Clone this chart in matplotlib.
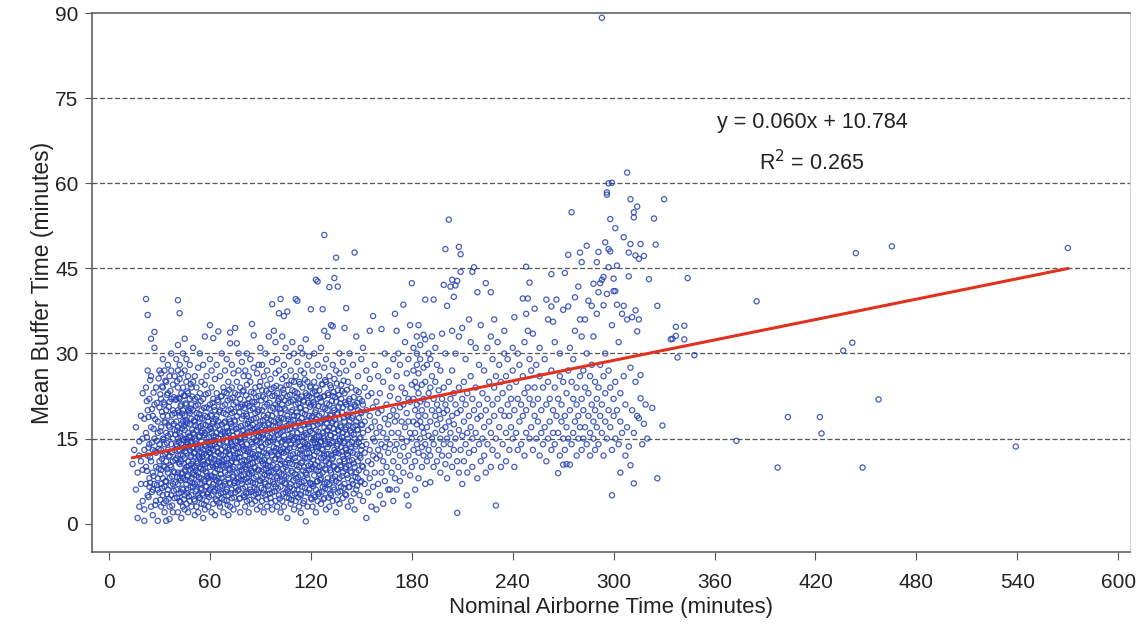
import matplotlib.pyplot as plt
import numpy as np

# Regression line reported on the chart
slope = 0.060
intercept = 10.784
r_squared = 0.265

x_ticks = [0, 60, 120, 180, 240, 300, 360, 420, 480, 540, 600]
y_ticks = [0, 15, 30, 45, 60, 75, 90]
grid_levels = [15, 30, 45, 60, 75]

# (nominal airborne time, mean buffer time), by region
pts_short = [
    (14, 10.5), (15, 13), (16, 6), (16, 17), (17, 1), (17, 9), (18, 12), (18, 14.5), (18, 3), (19, 7), (19, 19), (19, 11),
    (20, 15), (20, 4), (20, 23), (20, 9.5),
    (21, 0.5), (21, 2.5), (21, 13), (21, 18.5), (22, 7), (22, 10), (22, 16), (22, 24), (22, 39.6), (23, 5), (23, 12), (23, 20),
    (23, 36.8), (23, 27), (24, 8), (24, 14), (24, 22), (24, 6.5), (25, 3), (25, 11), (25, 17), (25, 26), (25, 32.6), (26, 6),
    (26, 9), (26, 13), (26, 19), (26, 1.5), (27, 7), (27, 15), (27, 21), (27, 31), (27, 33.8), (28, 4), (28, 10), (28, 12.5),
    (28, 24), (29, 6), (29, 8), (29, 16), (29, 18), (29, 0.5), (30, 5.5), (30, 11), (30, 14), (30, 20.5), (30, 27),
    (31, 3), (31, 7), (31, 9.5), (31, 13), (31, 17), (31, 22), (31, 26.5), (32, 5), (32, 8), (32, 12), (32, 15), (32, 19),
    (32, 24), (32, 29), (33, 2), (33, 6.5), (33, 10), (33, 14), (33, 18), (33, 21), (33, 27), (34, 4), (34, 7.5), (34, 11),
    (34, 16), (34, 20), (34, 25), (34, 0.5), (35, 6), (35, 9), (35, 13), (35, 15.5), (35, 19), (35, 23), (35, 28), (36, 3),
    (36, 8), (36, 12), (36, 17), (36, 21.5), (36, 26), (36, 0.8), (37, 5), (37, 10), (37, 14), (37, 18), (37, 22), (37, 27),
    (37, 30), (38, 7), (38, 11), (38, 15), (38, 20), (38, 24.5), (38, 2), (39, 4.5), (39, 9), (39, 13), (39, 16.5), (39, 19.5),
    (39, 26), (40, 6), (40, 11.5), (40, 14), (40, 18), (40, 22), (40, 29), (41, 39.4), (42, 37.1), (41, 31.5), (45, 32.6),
    (41, 2), (41, 7), (41, 9), (41, 12), (41, 15), (41, 17), (41, 20), (41, 24), (41, 27),
    (42, 4), (42, 8), (42, 10.5), (42, 13), (42, 16), (42, 19), (42, 22), (42, 25.5), (42, 28),
    (43, 1), (43, 5.5), (43, 9), (43, 11), (43, 14), (43, 17.5), (43, 21), (43, 23), (43, 26.5),
    (44, 3), (44, 6), (44, 8), (44, 12), (44, 15), (44, 18), (44, 20), (44, 24), (44, 30),
    (45, 2.5), (45, 5), (45, 9.5), (45, 11.5), (45, 13.5), (45, 16.5), (45, 19), (45, 22.5), (45, 27),
    (46, 3.5), (46, 7), (46, 10), (46, 12.5), (46, 15), (46, 18), (46, 21), (46, 25), (46, 29),
    (47, 2), (47, 6), (47, 8.5), (47, 11), (47, 14), (47, 16), (47, 20), (47, 23), (47, 26),
    (48, 4), (48, 7.5), (48, 9.5), (48, 13), (48, 15.5), (48, 17.5), (48, 19.5), (48, 22), (48, 28),
    (49, 3), (49, 5), (49, 8), (49, 10.5), (49, 12), (49, 14.5), (49, 18.5), (49, 21), (49, 24),
    (50, 6.5), (50, 9), (50, 11), (50, 13.5), (50, 16), (50, 20), (50, 25), (50, 31),
    (51, 1.5), (51, 4), (51, 7), (51, 10), (51, 12.5), (51, 15), (51, 18), (51, 22), (51, 26),
    (52, 3), (52, 6), (52, 8.5), (52, 11), (52, 14), (52, 16.5), (52, 19.5), (52, 24),
    (53, 2), (53, 5), (53, 9), (53, 12), (53, 13.5), (53, 17), (53, 21), (53, 27.5),
    (54, 4.5), (54, 7), (54, 10), (54, 11.5), (54, 15.5), (54, 18.5), (54, 23), (54, 30),
    (55, 3.5), (55, 6), (55, 8), (55, 12.5), (55, 14.5), (55, 16), (55, 20), (55, 25),
    (56, 5), (56, 9.5), (56, 11), (56, 13), (56, 17.5), (56, 22), (56, 28), (56, 1),
    (57, 2.5), (57, 7.5), (57, 10.5), (57, 14), (57, 16), (57, 19), (57, 24.5), (57, 33),
    (58, 4), (58, 6.5), (58, 9), (58, 12), (58, 15), (58, 20.5), (58, 26),
    (59, 3), (59, 5.5), (59, 8), (59, 11), (59, 13), (59, 16.5), (59, 18), (59, 23),
    (60, 6), (60, 10), (60, 12.5), (60, 14), (60, 17), (60, 21), (60, 29), (60, 35),
    (61, 2), (61, 5), (61, 8.5), (61, 11.5), (61, 14.5), (61, 16), (61, 19), (61, 24), (61, 27),
    (62, 3.5), (62, 7), (62, 10), (62, 13), (62, 15.5), (62, 18), (62, 22), (62, 32.7),
    (63, 1.5), (63, 6), (63, 9), (63, 12), (63, 14), (63, 17), (63, 20), (63, 25.5),
    (64, 4), (64, 7.5), (64, 10.5), (64, 13.5), (64, 16), (64, 19), (64, 23), (64, 28),
    (65, 5), (65, 8), (65, 11), (65, 12.5), (65, 15), (65, 18), (65, 21.5), (65, 33.9),
    (66, 3), (66, 6.5), (66, 9.5), (66, 14), (66, 16.5), (66, 20), (66, 26),
    (67, 4.5), (67, 8), (67, 11), (67, 13), (67, 17.5), (67, 22.5), (67, 30),
    (68, 2), (68, 5.5), (68, 10), (68, 12), (68, 15), (68, 19.5), (68, 24),
    (69, 7), (69, 9), (69, 13.5), (69, 16), (69, 18), (69, 21), (69, 27),
    (70, 4), (70, 6), (70, 11.5), (70, 14.5), (70, 17), (70, 23), (70, 29),
    (71, 1.5), (71, 5), (71, 8), (71, 10.5), (71, 13), (71, 16), (71, 20), (71, 25),
    (72, 3), (72, 7), (72, 9.5), (72, 12), (72, 15), (72, 18), (72, 22), (72, 31.8), (72, 33.7),
    (73, 4.5), (73, 6), (73, 11), (73, 14), (73, 17), (73, 19.5), (73, 24), (73, 28),
    (74, 2.5), (74, 8.5), (74, 10), (74, 13), (74, 15.5), (74, 21), (74, 26.5),
    (75, 5.5), (75, 7.5), (75, 12), (75, 14.5), (75, 18), (75, 23), (75, 34.5),
    (76, 3.5), (76, 9), (76, 11.5), (76, 16), (76, 19), (76, 25), (76, 31.8),
    (77, 6), (77, 8), (77, 13.5), (77, 17), (77, 20.5), (77, 27), (77, 30),
    (78, 2), (78, 4.5), (78, 10), (78, 12.5), (78, 15), (78, 22), (78, 24),
    (79, 7), (79, 9.5), (79, 11), (79, 14), (79, 18.5), (79, 21), (79, 28.5),
    (80, 5), (80, 8.5), (80, 13), (80, 16.5), (80, 19), (80, 23.5), (80, 26),
]

pts_medium = [
    (81, 3), (81, 6.5), (81, 10), (81, 12), (81, 15), (81, 17.5), (81, 21), (81, 27),
    (82, 4), (82, 8), (82, 11), (82, 14), (82, 16), (82, 19), (82, 24.5), (82, 30),
    (83, 2), (83, 5.5), (83, 9), (83, 13), (83, 15.5), (83, 18), (83, 22), (83, 26),
    (84, 6), (84, 7.5), (84, 10.5), (84, 12.5), (84, 17), (84, 20), (84, 25), (84, 29),
    (85, 3.5), (85, 9), (85, 11.5), (85, 14), (85, 16.5), (85, 21.5), (85, 35.2),
    (86, 5), (86, 8), (86, 13.5), (86, 15), (86, 18.5), (86, 23), (86, 33.2), (86, 27.5),
    (87, 4), (87, 7), (87, 10), (87, 12), (87, 16), (87, 19.5), (87, 24),
    (88, 2.5), (88, 6), (88, 11), (88, 14.5), (88, 17), (88, 21), (88, 26.5),
    (89, 5.5), (89, 9.5), (89, 13), (89, 15.5), (89, 20), (89, 22.5), (89, 28),
    (90, 3), (90, 7.5), (90, 12), (90, 16), (90, 18), (90, 25), (90, 31),
    (91, 4), (91, 8), (91, 11), (91, 13.5), (91, 17), (91, 20), (91, 23.5), (91, 28),
    (92, 2), (92, 6), (92, 9.5), (92, 12.5), (92, 15), (92, 19), (92, 26),
    (93, 5), (93, 7), (93, 10.5), (93, 14), (93, 16.5), (93, 22), (93, 30),
    (94, 3), (94, 8.5), (94, 12), (94, 15.5), (94, 21), (94, 24.5), (94, 27),
    (95, 6), (95, 9), (95, 11), (95, 13), (95, 17.5), (95, 23), (95, 33),
    (96, 4.5), (96, 7.5), (96, 10), (96, 14.5), (96, 20), (96, 25.5),
    (97, 2.5), (97, 5.5), (97, 12), (97, 16), (97, 19), (97, 22.5), (97, 28.5), (97, 38.7),
    (98, 7), (98, 9), (98, 13.5), (98, 15), (98, 18), (98, 24), (98, 34),
    (99, 4), (99, 6.5), (99, 11.5), (99, 17), (99, 21), (99, 26.5), (99, 32),
    (100, 3), (100, 8), (100, 10), (100, 14), (100, 16.5), (100, 20.5), (100, 23), (100, 29),
    (101, 5), (101, 9), (101, 12), (101, 15), (101, 18), (101, 22), (101, 27), (101, 37.1),
    (102, 2), (102, 6.5), (102, 10.5), (102, 13), (102, 16), (102, 19.5), (102, 24), (102, 39.6),
    (103, 4), (103, 7.5), (103, 11), (103, 14.5), (103, 17), (103, 21), (103, 25.5), (103, 33),
    (104, 3), (104, 8.5), (104, 12.5), (104, 15.5), (104, 18.5), (104, 23), (104, 28), (104, 36.6),
    (105, 5.5), (105, 7), (105, 10), (105, 14), (105, 20), (105, 26), (105, 31),
    (106, 1), (106, 6), (106, 9.5), (106, 13), (106, 16.5), (106, 19), (106, 22.5), (106, 37.4),
    (107, 4.5), (107, 8), (107, 11.5), (107, 15), (107, 17.5), (107, 24.5), (107, 29.5),
    (108, 3.5), (108, 7), (108, 12), (108, 14), (108, 18), (108, 21.5), (108, 27),
    (109, 5), (109, 9), (109, 10.5), (109, 16), (109, 20), (109, 23.5), (109, 32),
    (110, 2.5), (110, 6), (110, 13.5), (110, 15), (110, 19), (110, 25), (110, 30),
    (111, 4), (111, 8), (111, 11), (111, 14), (111, 17), (111, 21), (111, 26), (111, 39.6),
    (112, 6), (112, 9.5), (112, 12.5), (112, 16), (112, 19), (112, 23), (112, 28.5), (112, 39.3),
    (113, 3), (113, 7), (113, 10), (113, 15), (113, 18), (113, 22), (113, 25),
    (114, 1.9), (114, 5), (114, 8.5), (114, 13), (114, 16.5), (114, 20.5), (114, 27), (114, 31),
    (115, 6.5), (115, 11), (115, 12), (115, 14.5), (115, 19.5), (115, 24), (115, 30),
    (116, 4), (116, 7.5), (116, 10), (116, 15.5), (116, 17.5), (116, 21.5), (116, 26.5),
    (117, 0.4), (117, 5.5), (117, 9), (117, 13.5), (117, 16), (117, 20), (117, 23), (117, 32.5),
    (118, 3), (118, 8), (118, 11.5), (118, 14), (118, 18), (118, 25), (118, 28),
    (119, 6), (119, 9.5), (119, 12.5), (119, 17), (119, 19), (119, 22.5), (119, 29.5),
    (120, 4.5), (120, 7), (120, 10.5), (120, 15), (120, 21), (120, 24), (120, 37.8),
    (121, 3), (121, 7), (121, 10), (121, 13), (121, 16), (121, 19), (121, 23), (121, 27),
    (122, 5), (122, 8.5), (122, 12), (122, 15), (122, 18), (122, 21), (122, 25), (122, 30),
    (123, 2), (123, 6), (123, 9.5), (123, 13.5), (123, 16.5), (123, 20), (123, 24), (123, 43),
    (124, 4), (124, 7.5), (124, 11), (124, 14), (124, 17.5), (124, 22), (124, 28), (124, 42.7),
    (125, 5.5), (125, 10), (125, 12.5), (125, 15.5), (125, 19), (125, 23.5), (125, 26),
    (126, 3.5), (126, 8), (126, 11.5), (126, 14.5), (126, 18), (126, 21.5), (126, 31),
    (127, 6.5), (127, 9), (127, 13), (127, 16), (127, 20.5), (127, 24.5), (127, 37.8),
    (128, 4.5), (128, 7), (128, 12), (128, 15), (128, 17), (128, 22.5), (128, 27.5), (128, 50.9), (128, 34),
    (129, 2.5), (129, 9.5), (129, 11), (129, 14), (129, 18.5), (129, 25), (129, 29),
    (130, 6), (130, 8), (130, 13.5), (130, 16.5), (130, 20), (130, 23), (130, 33),
    (131, 3), (131, 7), (131, 10.5), (131, 14), (131, 17), (131, 21), (131, 26), (131, 41.7),
    (132, 5), (132, 9), (132, 12), (132, 15.5), (132, 19), (132, 24), (132, 35),
    (133, 4), (133, 8), (133, 11.5), (133, 14.5), (133, 18), (133, 22.5), (133, 28), (133, 34.8),
    (134, 6), (134, 10), (134, 13), (134, 16), (134, 20), (134, 25.5), (134, 43.3),
    (135, 2), (135, 7.5), (135, 12.5), (135, 17.5), (135, 21.5), (135, 27), (135, 46.9),
    (136, 5.5), (136, 9.5), (136, 14), (136, 16.5), (136, 19.5), (136, 23.5), (136, 41.8),
    (137, 3.5), (137, 8), (137, 11), (137, 15), (137, 18.5), (137, 26.5), (137, 30),
    (138, 6.5), (138, 10), (138, 13.5), (138, 17), (138, 22), (138, 24.5),
    (139, 4.5), (139, 9), (139, 12), (139, 16), (139, 20.5), (139, 28.5),
    (140, 7), (140, 11), (140, 14.5), (140, 18), (140, 23), (140, 34.5),
    (141, 5), (141, 10), (141, 13), (141, 17), (141, 21), (141, 27), (141, 38),
    (142, 3), (142, 8), (142, 12), (142, 15), (142, 19), (142, 25),
    (143, 6.5), (143, 11), (143, 14), (143, 18), (143, 22), (143, 30),
    (144, 4), (144, 9), (144, 13.5), (144, 16), (144, 20.5), (144, 24),
    (145, 7), (145, 12.5), (145, 17), (145, 19), (145, 28), (146, 2.5), (146, 10), (146, 15), (146, 21), (146, 47.8),
    (147, 6), (147, 9), (147, 14), (147, 18), (147, 23.5), (147, 33), (148, 8), (148, 11), (148, 16.5), (148, 20), (148, 26),
    (149, 5), (149, 12), (149, 15), (149, 22), (150, 7.5), (150, 13), (150, 17.5), (150, 19.5), (150, 29),
    (151, 4), (151, 10), (151, 16), (151, 21), (151, 31), (152, 7), (152, 12.5), (152, 18), (152, 24),
    (153, 1), (153, 9), (153, 14), (153, 20), (153, 27), (154, 5.5), (154, 11), (154, 16.5), (154, 22.5),
    (155, 8), (155, 13), (155, 19), (155, 25.5), (155, 34), (156, 3), (156, 10.5), (156, 17), (156, 23),
    (157, 6.5), (157, 12), (157, 15), (157, 20.5), (157, 36.6), (158, 9), (158, 14.5), (158, 18), (158, 28),
    (159, 2.5), (159, 11.5), (159, 16), (159, 21.5), (160, 7), (160, 13), (160, 19.5), (160, 26),
]

# extra points filling the dense core (column x, values of y in that column)
core_cols = [
    (22.5, [9.3, 15.2, 21.6]), (23.5, [4.7, 13.4, 18.8]), (24.5, [7.2, 11.7, 25.3]), (25.5, [5.6, 14.3, 20.2]),
    (26.5, [8.4, 16.7, 23.1]), (27.5, [3.3, 12.8, 18.4]), (28.5, [6.8, 14.6, 21.3]), (29.5, [9.7, 13.2, 25.6]),
    (30.5, [4.2, 8.7, 16.3, 22.8]), (31.5, [6.3, 11.4, 19.7, 24.2]), (32.5, [3.6, 10.2, 14.8, 21.4]),
    (33.5, [7.4, 12.3, 17.8, 25.2]), (34.5, [5.2, 9.6, 14.2, 22.7]), (35.5, [4.4, 11.8, 17.3, 20.6]),
    (36.5, [6.7, 10.3, 15.8, 23.4]), (37.5, [3.2, 8.3, 12.6, 19.2]), (38.5, [5.8, 9.2, 17.6, 22.3]),
    (39.5, [7.3, 11.2, 15.7, 21.8]), (40.5, [4.6, 8.2, 13.7, 16.4, 25.1]), (41.5, [5.3, 10.8, 14.3, 19.6, 22.2]),
    (42.5, [3.8, 7.6, 12.2, 15.4, 20.7]), (43.5, [6.2, 8.8, 13.3, 16.8, 19.4]), (44.5, [4.3, 10.6, 14.7, 17.2, 22.6]),
    (45.5, [7.7, 9.3, 12.8, 18.3, 21.2]), (46.5, [5.4, 8.3, 14.4, 17.7, 23.3]), (47.5, [4.8, 10.2, 13.6, 15.3, 19.8]),
    (48.5, [6.4, 11.7, 14.2, 20.3, 24.6]), (49.5, [7.2, 9.8, 13.3, 16.6, 22.4]), (50.5, [4.3, 8.6, 12.4, 15.7, 18.2]),
    (51.5, [5.7, 9.4, 14.6, 17.3, 20.8]), (52.5, [7.3, 10.6, 13.2, 18.7, 22.3]), (53.5, [4.6, 8.2, 11.7, 15.4, 19.3]),
    (54.5, [6.3, 9.7, 13.4, 17.2, 21.6]), (55.5, [5.3, 10.4, 11.8, 16.3, 18.6]), (56.5, [3.4, 7.8, 12.3, 15.6, 20.4]),
    (57.5, [6.6, 9.2, 13.7, 17.4, 22.8]), (58.5, [5.2, 8.4, 10.7, 14.3, 18.8]), (59.5, [4.7, 7.3, 12.6, 15.2, 20.3]),
    (60.5, [8.3, 11.6, 13.2, 16.7, 19.2]), (61.5, [6.4, 10.3, 13.8, 17.6, 21.3]), (62.5, [5.7, 8.2, 11.4, 14.7, 20.6]),
    (63.5, [4.3, 7.7, 10.2, 15.3, 18.4]), (64.5, [6.2, 9.6, 12.7, 17.3, 21.8]), (65.5, [3.6, 7.3, 10.8, 14.2, 19.7]),
    (66.5, [5.3, 8.7, 12.2, 15.8, 22.4]), (67.5, [6.7, 10.4, 14.6, 16.2, 20.7]), (68.5, [4.2, 7.4, 11.3, 17.8, 23.2]),
    (69.5, [5.6, 10.2, 12.7, 15.4, 19.3]), (70.5, [3.3, 8.6, 13.4, 16.3, 21.7]), (71.5, [7.2, 9.7, 12.3, 18.4, 23.6]),
    (72.5, [5.4, 10.7, 14.3, 17.6, 20.2]), (73.5, [8.2, 9.6, 13.7, 16.4, 22.2]), (74.5, [4.6, 7.2, 11.6, 18.2, 19.7]),
    (75.5, [6.3, 10.8, 13.3, 16.7, 21.4]), (76.5, [5.8, 7.3, 12.4, 14.6, 22.7]), (77.5, [4.4, 9.3, 11.7, 15.2, 19.6]),
    (78.5, [7.6, 8.4, 14.3, 17.2, 20.6]), (79.5, [6.2, 10.4, 13.6, 16.3, 23.3]), (80.5, [4.7, 7.8, 11.2, 15.6, 20.4]),
    (81.5, [5.3, 9.6, 13.2, 19.3, 22.6]), (82.5, [7.4, 10.3, 12.7, 17.6, 21.2]), (83.5, [4.2, 8.7, 11.4, 16.2, 20.7]),
    (84.5, [5.6, 9.3, 14.4, 18.3, 23.2]), (85.5, [7.2, 10.7, 12.3, 17.4, 20.3]), (86.5, [6.4, 9.8, 11.6, 16.7, 21.4]),
    (87.5, [5.2, 8.3, 14.7, 18.6, 22.3]), (88.5, [4.6, 9.4, 12.2, 16.3, 19.7]), (89.5, [7.7, 11.3, 14.2, 17.4, 24.2]),
    (90.5, [6.3, 9.2, 13.6, 15.3, 21.7]), (91.5, [5.4, 10.6, 15.7, 18.2, 22.4]), (92.5, [7.3, 8.6, 11.2, 17.3, 20.6]),
    (93.5, [4.3, 9.7, 12.4, 18.7, 23.4]), (94.5, [6.6, 10.2, 14.3, 17.7, 19.2]), (95.5, [5.3, 8.4, 15.2, 16.6, 21.3]),
    (96.5, [3.7, 9.3, 12.6, 18.2, 23.7]), (97.5, [7.4, 10.3, 14.7, 17.2, 20.4]), (98.5, [5.7, 11.3, 12.8, 16.2, 22.6]),
    (99.5, [8.4, 9.6, 13.3, 19.4, 24.3]), (100.5, [6.2, 12.3, 15.6, 18.3, 21.6]), (101.5, [4.4, 7.6, 11.3, 17.7, 20.2]),
    (102.5, [8.7, 12.6, 14.3, 18.6, 22.2]), (103.5, [5.3, 9.7, 13.2, 16.4, 23.6]), (104.5, [7.2, 10.6, 14.8, 20.3, 21.7]),
    (105.5, [4.6, 8.3, 12.7, 17.2, 24.4]), (106.5, [5.7, 11.2, 14.6, 18.4, 21.3]), (107.5, [6.4, 10.7, 13.3, 16.6, 22.7]),
    (108.5, [4.2, 9.3, 15.4, 19.7, 25.2]), (109.5, [7.6, 12.2, 14.7, 18.3, 21.8]), (110.5, [5.3, 8.7, 11.6, 17.2, 23.3]),
    (111.5, [6.7, 10.3, 15.2, 19.6, 22.3]), (112.5, [4.6, 8.2, 14.4, 17.7, 21.2]), (113.5, [5.2, 12.3, 13.7, 20.4, 24.6]),
    (114.5, [7.3, 10.7, 15.3, 18.6, 22.4]), (115.5, [3.6, 9.4, 13.2, 17.3, 21.7]), (116.5, [6.3, 11.6, 14.2, 19.3, 25.4]),
    (117.5, [8.6, 12.4, 15.7, 18.2, 22.6]), (118.5, [5.4, 10.2, 13.7, 17.6, 21.3]), (119.5, [7.2, 11.7, 16.3, 20.6, 24.2]),
    (120.5, [4.3, 9.6, 13.4, 18.7, 22.2]), (121.5, [6.6, 11.3, 14.7, 17.2, 21.4]), (122.5, [4.7, 10.4, 14.2, 19.6, 23.3]),
    (123.5, [7.4, 12.7, 15.3, 18.4, 22.7]), (124.5, [5.2, 9.3, 13.6, 16.2, 20.7]), (125.5, [7.7, 8.6, 14.3, 17.7, 22.2]),
    (126.5, [5.6, 10.3, 13.2, 19.4, 24.6]), (127.5, [4.3, 11.6, 15.4, 18.3, 22.4]), (128.5, [6.2, 9.7, 14.6, 20.3, 25.3]),
    (129.5, [7.3, 12.2, 16.4, 17.6, 21.2]), (130.5, [4.6, 10.7, 12.3, 18.6, 22.7]), (131.5, [5.3, 9.4, 15.6, 19.2, 24.4]),
    (132.5, [7.6, 11.3, 14.2, 17.7, 21.6]), (133.5, [6.4, 10.2, 16.7, 20.4, 23.2]), (134.5, [8.3, 12.6, 15.2, 18.4, 22.3]),
    (135.5, [4.2, 9.6, 13.7, 19.3, 24.7]), (136.5, [7.2, 12.4, 16.3, 20.6, 22.7]), (137.5, [5.7, 10.3, 14.6, 17.3, 21.2]),
    (138.5, [8.4, 12.7, 15.3, 19.6, 23.4]), (139.5, [6.3, 11.4, 14.2, 18.7, 25.2]), (140.5, [5.2, 9.7, 13.3, 16.6, 21.4]),
    (141.5, [8.6, 12.3, 15.7, 19.2, 23.6]), (142.5, [6.4, 10.3, 17.3, 21.6]), (143.5, [9.2, 12.7, 16.4, 20.3]),
    (144.5, [7.6, 11.2, 14.4, 18.6]), (145.5, [5.3, 10.6, 15.7, 22.3]), (146.5, [8.2, 13.6, 17.3, 20.7]),
    (147.5, [6.7, 12.2, 16.6, 21.3]), (148.5, [9.4, 14.3, 18.6, 23.2]), (149.5, [7.3, 11.6, 15.2, 19.7]),
    (150.5, [10.2, 13.7, 17.4, 21.6]),
]

pts_long = [
    (161, 5), (161, 12), (161, 17), (161, 23), (162, 9), (162, 14), (162, 20), (162, 34.3),
    (163, 3.5), (163, 11), (163, 16), (163, 25), (164, 7.5), (164, 13.5), (164, 18.5), (164, 30),
    (165, 10), (165, 15), (165, 21), (166, 6), (166, 12.5), (166, 17.5), (166, 27),
    (167, 6), (167, 14), (167, 19), (167, 22.5), (168, 9), (168, 16), (168, 24),
    (169, 4), (169, 11), (169, 20), (169, 29), (170, 8), (170, 13), (170, 18), (170, 37),
    (171, 6), (171, 14), (171, 19), (171, 26), (171, 34), (172, 10), (172, 16), (172, 22), (172, 30),
    (173, 7.5), (173, 12), (173, 20.5), (173, 28), (174, 15), (174, 18), (174, 24),
    (175, 9), (175, 13.5), (175, 21), (175, 38.6), (176, 11), (176, 17), (176, 23), (176, 32),
    (177, 5), (177, 14.5), (177, 19.5), (177, 26.5), (178, 3.2), (178, 12), (178, 18), (178, 22), (178, 29),
    (179, 8.5), (179, 16), (179, 21.5), (179, 35), (180, 10), (180, 15), (180, 24.5), (180, 42.4),
    (181, 13), (181, 18), (181, 22), (181, 27), (181, 31), (182, 6), (182, 11), (182, 16), (182, 20), (182, 25),
    (183, 14), (183, 17.5), (183, 21), (183, 24), (183, 28), (183, 30), (183, 33),
    (184, 8), (184, 12.5), (184, 19), (184, 23), (184, 26.5), (184, 35),
    (185, 15), (185, 18), (185, 21.5), (185, 29), (185, 31.5), (186, 10), (186, 13.5), (186, 17), (186, 20), (186, 24.5),
    (187, 12), (187, 16), (187, 22), (187, 27.5), (187, 33.3), (188, 7), (188, 14), (188, 19), (188, 25), (188, 39.5), (188, 32.5),
    (189, 11), (189, 17), (189, 21), (189, 28), (190, 13), (190, 15.5), (190, 23), (190, 30),
    (191, 7.3), (191, 12), (191, 18), (191, 24), (191, 29), (192, 15), (192, 20), (192, 26), (192, 33),
    (193, 10), (193, 14), (193, 22), (193, 39.5), (194, 16), (194, 19), (194, 25), (194, 31),
    (195, 11), (195, 17.5), (195, 21), (195, 28), (196, 13), (196, 20), (196, 23.5),
    (197, 9), (197, 15), (197, 18.5), (197, 27), (198, 12), (198, 16.5), (198, 22), (198, 33.5),
    (199, 14), (199, 19.5), (199, 24), (199, 42.1), (200, 10.5), (200, 17), (200, 21), (200, 48.4), (200, 30),
    (201, 8), (201, 15), (201, 20), (201, 38.4), (202, 12), (202, 18), (202, 25), (202, 53.6),
    (203, 14), (203, 16), (203, 22), (203, 41.8), (204, 10), (204, 19), (204, 27), (204, 43), (204, 34),
    (205, 13), (205, 17.5), (205, 23), (205, 40), (206, 15), (206, 21), (206, 30), (206, 42),
    (207, 1.9), (207, 11), (207, 19.5), (207, 42.8), (208, 9), (208, 16.5), (208, 24), (208, 48.8), (208, 33),
    (209, 13), (209, 20), (209, 47.5), (209, 44.4), (210, 7), (210, 15.5), (210, 22), (210, 34.5),
    (211, 11), (211, 18), (211, 25), (212, 14), (212, 21), (212, 29), (213, 9), (213, 16), (213, 23),
    (214, 12.5), (214, 19), (214, 36), (215, 17), (215, 26), (215, 32), (216, 10), (216, 15), (216, 22), (216, 44.4),
    (217, 13), (217, 20), (217, 45.2), (218, 16), (218, 24), (218, 31), (219, 8), (219, 18.5), (219, 40.8),
    (220, 14), (220, 21), (220, 28), (221, 11), (221, 19), (221, 35), (222, 15), (222, 23),
    (223, 12), (223, 17), (223, 27), (224, 9), (224, 20), (224, 42.4), (225, 14), (225, 22), (225, 31),
    (226, 18), (226, 25), (227, 10), (227, 16), (227, 40.8), (227, 33), (228, 13), (228, 21), (228, 29),
    (229, 19), (229, 24), (229, 36), (230, 3.2), (230, 15), (230, 26),
    (231, 12), (231, 22), (231, 32), (232, 17), (232, 28), (233, 10), (233, 20), (233, 25), (234, 14), (234, 23),
    (235, 19), (235, 30), (235, 34), (236, 11), (236, 16), (236, 26), (237, 21), (237, 29),
    (238, 13), (238, 19), (238, 24), (239, 17), (239, 22), (240, 15), (240, 27), (240, 31),
    (241, 10), (241, 20), (241, 36.4), (242, 16), (242, 25), (243, 13), (243, 22), (243, 30), (244, 18), (244, 28),
    (245, 14), (245, 21), (246, 19), (246, 26), (246, 39.7), (247, 12), (247, 23), (247, 32),
    (248, 16), (248, 20), (248, 45.3), (248, 37), (249, 24), (249, 39.7), (249, 34), (250, 15), (250, 22), (250, 42.5), (250, 29),
    (251, 17), (251, 27), (252, 13), (252, 21), (252, 33.5), (253, 19), (253, 24), (253, 37.9), (254, 15), (254, 28),
    (255, 18), (255, 22), (256, 12), (256, 26), (256, 31), (257, 16), (257, 20), (258, 14), (258, 24),
    (259, 17), (259, 29), (260, 11), (260, 21), (260, 39.5),
    (261, 15), (261, 25), (261, 36), (262, 18), (262, 22), (263, 13), (263, 27), (263, 44), (263, 38.3),
    (264, 16), (264, 20), (264, 35.6), (265, 14), (265, 24), (265, 32), (266, 19), (266, 39.5),
    (267, 8.9), (267, 16), (267, 22), (268, 12), (268, 26), (268, 30), (269, 18), (269, 21),
    (270, 10.4), (270, 15), (270, 25), (270, 37.7), (271, 13), (271, 19), (271, 44.2), (272, 17), (272, 23), (272, 10.5),
    (273, 15), (273, 27), (273, 38.3), (273, 47.4), (274, 20), (274, 10.4), (274, 31), (275, 14), (275, 25), (275, 54.9),
    (276, 16), (276, 22), (276, 29), (277, 18), (277, 39.9), (277, 34), (278, 12), (278, 24), (278, 21),
    (279, 15), (279, 19), (279, 41.8), (280, 26), (280, 17), (280, 47.8), (280, 36),
    (281, 13), (281, 22), (281, 46.1), (281, 33), (282, 20), (282, 27), (282, 15), (283, 17), (283, 24), (283, 36),
    (284, 14), (284, 30), (284, 49), (285, 19), (285, 23), (285, 39.3), (286, 16), (286, 26), (286, 12),
    (287, 21), (287, 28), (287, 38.4), (288, 15), (288, 18), (288, 42.3), (288, 33), (289, 20), (289, 25), (289, 13),
    (290, 17), (290, 22), (290, 46.1), (290, 37), (291, 14), (291, 24), (291, 47.9), (291, 40.8),
    (292, 19), (292, 28), (292, 42.4), (293, 16), (293, 21), (293, 43), (293, 89.2),
    (294, 12), (294, 26), (294, 43.5), (294, 38.5), (295, 18), (295, 23), (295, 49.6), (295, 30),
    (296, 15), (296, 58), (296, 58.4), (296, 40.5), (297, 60), (297, 20), (297, 27), (297, 48.4), (297, 45.2),
    (298, 17), (298, 24), (298, 48), (298, 53.7), (299, 5), (299, 60.1), (299, 13), (299, 35),
    (300, 19), (300, 22), (300, 43.2), (300, 41),
]

pts_extra = [
    (301, 52.1), (301, 15), (301, 25), (301, 41), (302, 45.5), (302, 20), (302, 38.6), (303, 14), (303, 32),
    (304, 9), (304, 18), (304, 23), (305, 16), (305, 37), (306, 50.5), (306, 26), (306, 38.4), (307, 12), (307, 21),
    (308, 61.9), (308, 17), (308, 36), (309, 13.6), (309, 47.8), (309, 43.6), (310, 10.3), (310, 27.5), (310, 49.3), (310, 57.2),
    (311, 20), (311, 36.4), (312, 7.1), (312, 54.9), (312, 54), (312, 16), (313, 47.3), (313, 37.6), (313, 25),
    (314, 55.9), (314, 33.9), (314, 19), (315, 18.6), (315, 46.7), (315, 36), (316, 22.1), (316, 26.2), (316, 49.3),
    (317, 14), (318, 17.6), (318, 47.2), (319, 21), (320, 15),
    (321, 43.1), (323, 20.4), (324, 53.8), (325, 49.2), (326, 8), (326, 38.4), (329, 17.3), (330, 57.2),
    (334, 32.5), (335, 32.6), (337, 33.1), (337, 34.7), (338, 29.3), (342, 34.9), (342, 32.5), (344, 43.3), (348, 29.7),
    (373, 14.6), (385, 39.2), (397.5, 9.9), (403.6, 18.8), (422.6, 18.8), (423.6, 15.9), (436.5, 30.5), (441.9, 31.9),
    (444, 47.7), (448, 9.9), (457.5, 21.9), (465.4, 48.9), (539.1, 13.6), (570, 48.6),
]

pts_core = [(cx, cy) for cx, ys in core_cols for cy in ys]
pts = np.array(pts_short + pts_medium + pts_core + pts_long + pts_extra)
x, y = pts[:, 0], pts[:, 1]

plt.rcParams['font.family'] = ['Liberation Sans', 'DejaVu Sans']

fig = plt.figure(figsize=(11.38, 6.28), dpi=100)
ax = fig.add_axes([0.081, 0.121, 0.912, 0.858])

# dashed reference lines
for lvl in grid_levels:
    ax.axhline(lvl, color='#555555', linestyle=(0, (4, 2)), linewidth=0.9, zorder=1)

ax.scatter(x, y, s=14, facecolors='none', edgecolors='#2440b4',
           linewidths=0.9, alpha=0.85, zorder=2)

# fitted line over the range of the data
fit_x = np.array([x.min(), x.max()])
ax.plot(fit_x, slope * fit_x + intercept, color='#e0321e', linewidth=2.2, zorder=3)

ax.text(418, 70.8, f"y = {slope:.3f}x + {intercept:.3f}", ha='center', va='center',
        fontsize=15.5, color='#222222')
ax.text(418, 63.6, f"R$^2$ = {r_squared:.3f}", ha='center', va='center',
        fontsize=15.5, color='#222222')

ax.set_xlim(-10, 607)
ax.set_ylim(-5, 90)
ax.set_xticks(x_ticks)
ax.set_yticks(y_ticks)
ax.tick_params(axis='x', labelsize=15, length=6, pad=9, color='#555555', labelcolor='#222222')
ax.tick_params(axis='y', labelsize=15, length=5, pad=5, color='#555555', labelcolor='#222222')

ax.set_xlabel("Nominal Airborne Time (minutes)", fontsize=16, color='#222222', labelpad=4)
ax.set_ylabel("Mean Buffer Time (minutes)", fontsize=16.5, color='#222222', labelpad=1)

for side in ['left', 'bottom', 'top']:
    ax.spines[side].set_color('#555555')
    ax.spines[side].set_linewidth(1.1)
ax.spines['right'].set_color('#d0d0d0')
ax.spines['right'].set_linewidth(0.8)

plt.savefig('out.png', dpi=100)
